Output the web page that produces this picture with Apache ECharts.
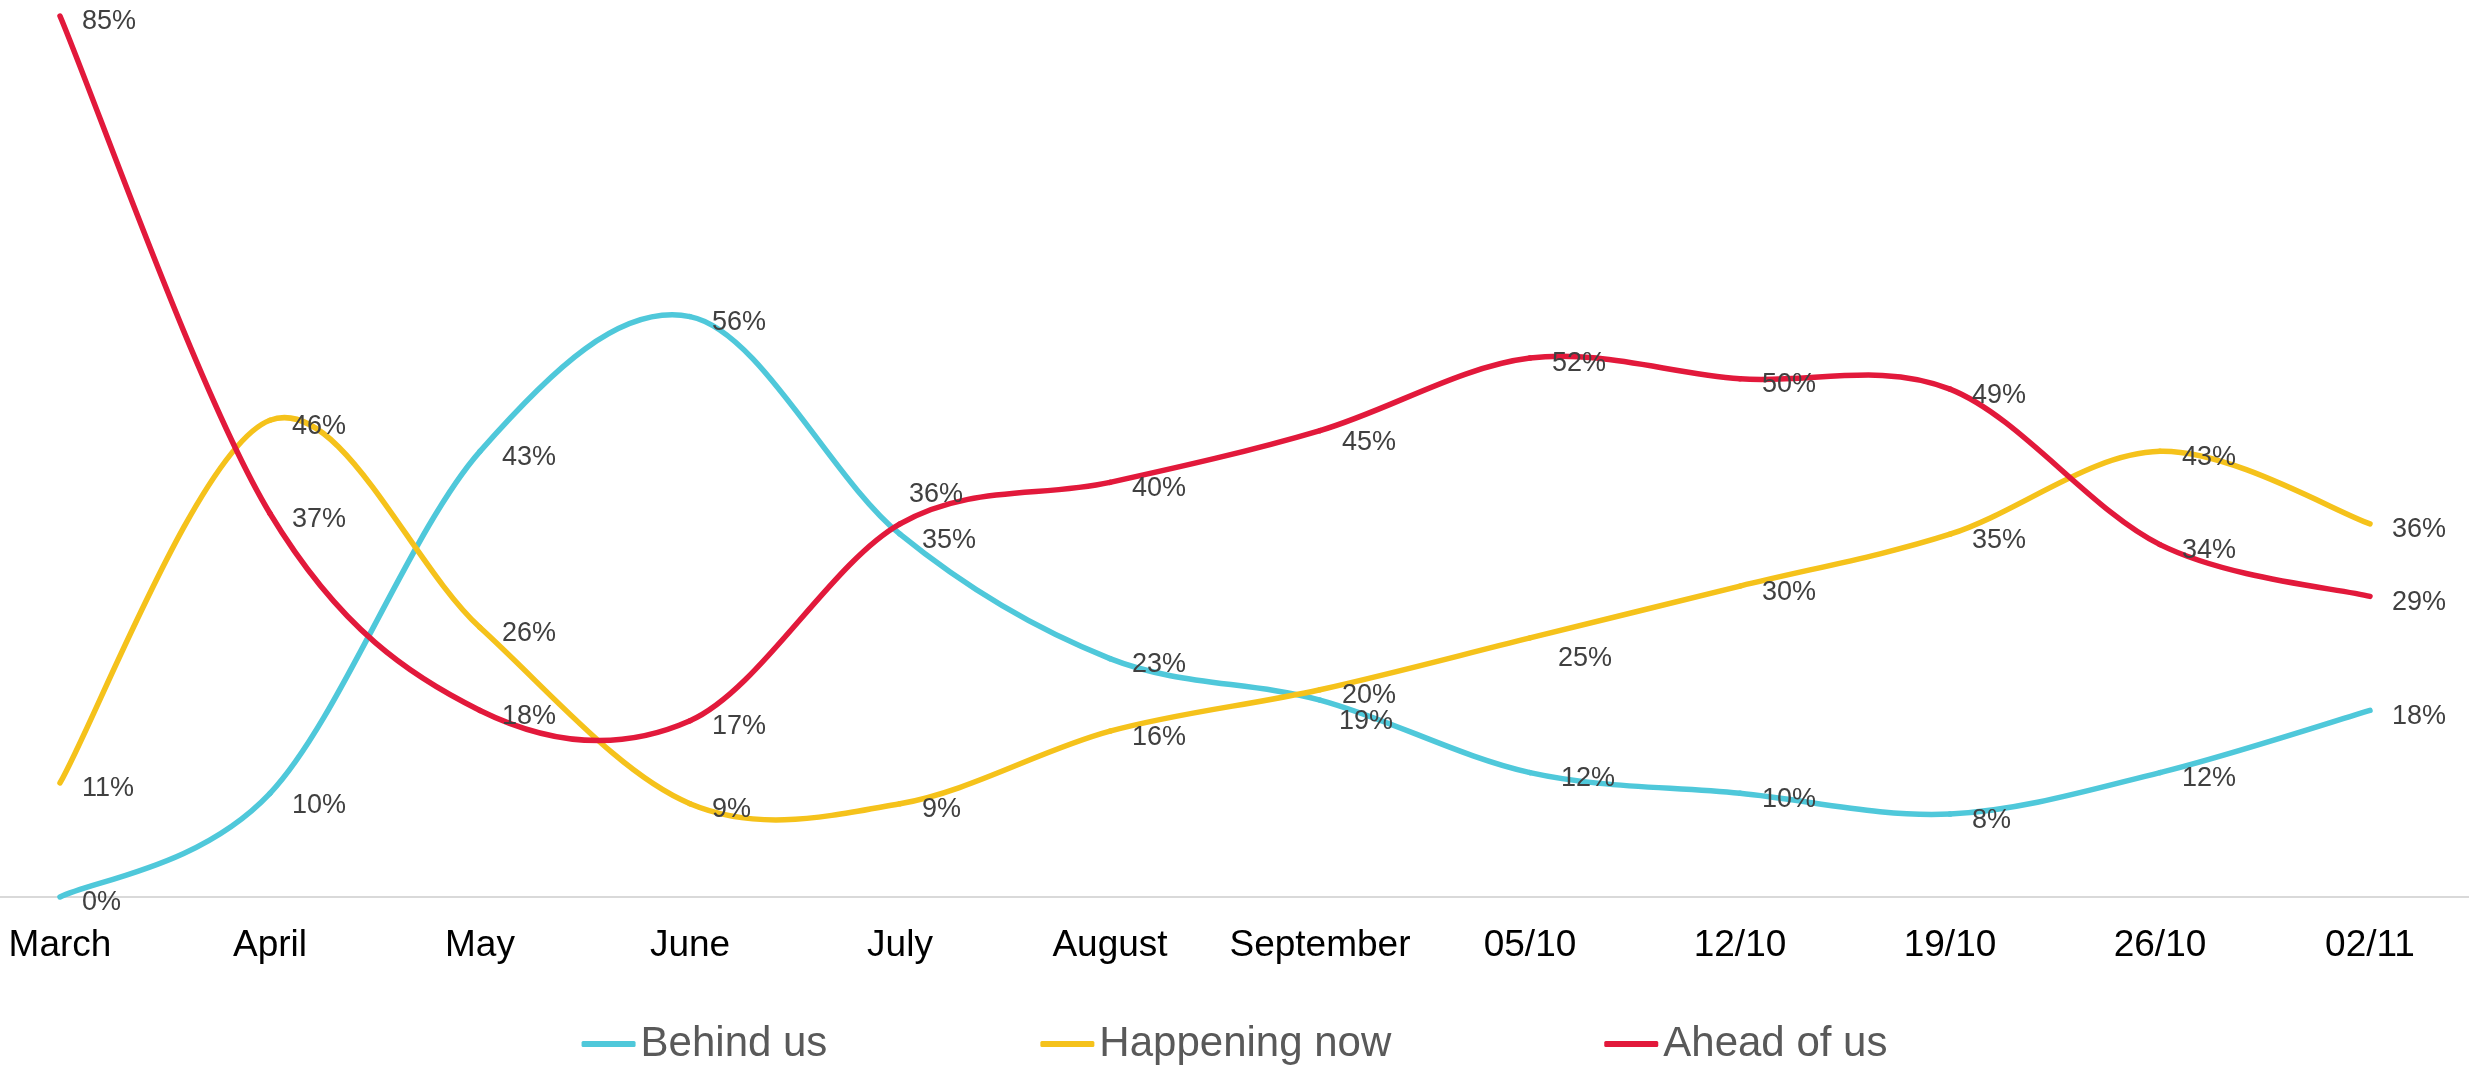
<!DOCTYPE html>
<html>
<head>
<meta charset="utf-8">
<script src="https://cdn.jsdelivr.net/npm/echarts@6/dist/echarts.min.js"></script>
<style>
  html, body { margin: 0; padding: 0; background: #ffffff; }
  #chart { width: 2469px; height: 1067px; }
</style>
</head>
<body>
<div id="chart"></div>
<script>
// ---- data ----
const categories = ['March', 'April', 'May', 'June', 'July', 'August', 'September', '05/10', '12/10', '19/10', '26/10', '02/11'];
const behindUs = [0, 10, 43, 56, 35, 23, 19, 12, 10, 8, 12, 18];
const happeningNow = [11, 46, 26, 9, 9, 16, 20, 25, 30, 35, 43, 36];
const aheadOfUs = [85, 37, 18, 17, 36, 40, 45, 52, 50, 49, 34, 29];
const seriesNames = ['Behind us', 'Happening now', 'Ahead of us'];

// ---- styling (label nudges, matching the reference's hand-placed labels) ----
const DEFAULT_LABEL_OFFSET = [0, 6];
const labelNudges = {
  'Behind us': { 1: [0, 12], 6: [-3, 21], 7: [9, 6] },
  'Happening now': { 7: [6, 21] },
  'Ahead of us': { 4: [-13, -29], 6: [0, 12] }
};
const colors = { 'Behind us': '#4FC8DA', 'Happening now': '#F5C21B', 'Ahead of us': '#E2193B' };
const LINE_W = 5.5;
const FONT = 'Liberation Sans, Arial, sans-serif';

function buildData(name, values) {
  const nudges = labelNudges[name] || {};
  return values.map((v, i) => ({
    value: v,
    label: { offset: nudges[i] || DEFAULT_LABEL_OFFSET }
  }));
}

// Label/legend carrier series (line itself invisible; the curve is drawn by the custom series below)
function makeLabelSeries(name, values) {
  return {
    name: name,
    type: 'line',
    data: buildData(name, values),
    symbol: 'circle',
    symbolSize: 0,
    showSymbol: true,
    lineStyle: { width: LINE_W, color: colors[name], opacity: 0 },
    itemStyle: { color: colors[name] },
    label: {
      show: true,
      position: 'right',
      distance: 22,
      formatter: p => p.value + '%',
      fontFamily: FONT,
      fontSize: 27,
      color: '#404040'
    },
    z: 10
  };
}

// Smoothed curve (Excel-style Catmull-Rom, tension 1/6) drawn through the axis scales
function makeCurveSeries(name, values) {
  const n = values.length;
  return {
    name: name + ' (curve)',
    type: 'custom',
    data: values.map((v, i) => [i, v]),
    encode: { x: 0, y: 1 },
    silent: true,
    z: 2,
    renderItem: function (params, api) {
      const i = params.dataIndex;
      if (i === 0) return null;
      const P = k => {
        const kk = Math.max(0, Math.min(n - 1, k));
        return api.coord([kk, values[kk]]);
      };
      const p0 = P(i - 2), p1 = P(i - 1), p2 = P(i), p3 = P(i + 1);
      return {
        type: 'bezierCurve',
        shape: {
          x1: p1[0], y1: p1[1],
          x2: p2[0], y2: p2[1],
          cpx1: p1[0] + (p2[0] - p0[0]) / 6,
          cpy1: p1[1] + (p2[1] - p0[1]) / 6,
          cpx2: p2[0] - (p3[0] - p1[0]) / 6,
          cpy2: p2[1] - (p3[1] - p1[1]) / 6
        },
        style: { stroke: colors[name], lineWidth: LINE_W, fill: null, lineCap: 'round' }
      };
    }
  };
}

const chart = echarts.init(document.getElementById('chart'), null, { renderer: 'canvas' });
chart.setOption({
  animation: false,
  backgroundColor: '#ffffff',
  grid: [
    { left: 60, right: 99, top: 16, bottom: 170, containLabel: false },
    { left: 0, right: 0, top: 16, bottom: 170, containLabel: false }
  ],
  xAxis: [
    {
      type: 'category',
      gridIndex: 0,
      data: categories,
      boundaryGap: false,
      axisLine: { show: false },
      axisTick: { show: false },
      splitLine: { show: false },
      axisLabel: {
        margin: 30,
        fontFamily: FONT,
        fontSize: 37,
        color: '#000000',
        interval: 0
      }
    },
    {
      type: 'value',
      gridIndex: 1,
      min: 0,
      max: 1,
      axisLine: { show: true, lineStyle: { color: '#D9D9D9', width: 2 } },
      axisTick: { show: false },
      axisLabel: { show: false },
      splitLine: { show: false }
    }
  ],
  yAxis: [
    { type: 'value', gridIndex: 0, min: 0, max: 85, show: false },
    { type: 'value', gridIndex: 1, min: 0, max: 1, show: false }
  ],
  legend: {
    data: seriesNames,
    left: 'center',
    top: 1018,
    icon: 'roundRect',
    itemWidth: 54,
    itemHeight: 6,
    itemGap: 213,
    textStyle: {
      fontFamily: FONT,
      fontSize: 42,
      color: '#595959'
    }
  },
  series: [
    makeCurveSeries(seriesNames[0], behindUs),
    makeCurveSeries(seriesNames[1], happeningNow),
    makeCurveSeries(seriesNames[2], aheadOfUs),
    makeLabelSeries(seriesNames[0], behindUs),
    makeLabelSeries(seriesNames[1], happeningNow),
    makeLabelSeries(seriesNames[2], aheadOfUs)
  ]
});
</script>
</body>
</html>
